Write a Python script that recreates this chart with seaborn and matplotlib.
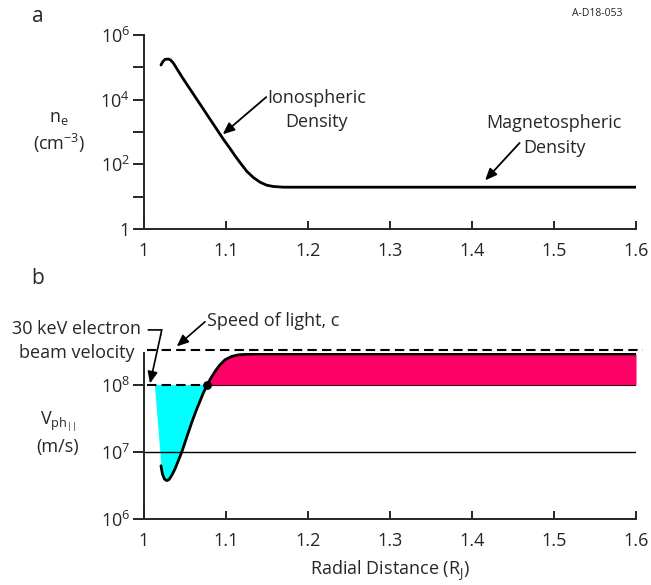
import numpy as np
import pandas as pd
import matplotlib
matplotlib.use("Agg")
import matplotlib.pyplot as plt
from matplotlib.ticker import FixedLocator, NullFormatter
import seaborn as sns

# ---------------- data ----------------
# panel a: electron density vs radial distance
r_ne = [1.0207, 1.0228, 1.0256, 1.0297, 1.0325, 1.0358, 1.0398, 1.048, 1.0724,
        1.0967, 1.1049, 1.111, 1.1171, 1.1252, 1.1333, 1.1415, 1.1496, 1.1577,
        1.17, 1.3, 1.4, 1.5, 1.6]
ne = [1.18e5, 1.49e5, 1.77e5, 1.81e5, 1.68e5, 1.36e5, 9.3e4, 4.35e4, 5.1e3,
      603, 310, 184, 114, 61.5, 39.3, 28.1, 22.7, 20.7,
      19.7, 19.7, 19.7, 19.7, 19.7]

# panel b: parallel phase velocity vs radial distance
r_v = [1.0207, 1.0224, 1.0248, 1.0276, 1.0305, 1.0337, 1.0378, 1.0419, 1.0459,
       1.052, 1.0581, 1.0642, 1.0683, 1.0724, 1.0764, 1.0805, 1.0866, 1.0927,
       1.0988, 1.1069, 1.115, 1.1313, 1.2, 1.3, 1.4, 1.5, 1.6]
v_ph = [6.2e6, 4.7e6, 3.95e6, 3.73e6, 3.86e6, 4.43e6, 5.55e6, 7.4e6, 9.8e6,
        1.63e7, 2.71e7, 4.28e7, 5.68e7, 7.54e7, 9.45e7, 1.19e8, 1.57e8, 1.97e8,
        2.34e8, 2.62e8, 2.77e8, 2.85e8, 2.85e8, 2.85e8, 2.85e8, 2.85e8, 2.85e8]

beam_v = 1e8          # 30 keV electron beam velocity
light_c = 3.25e8      # speed of light (as drawn)
ref_v = 1e7           # reference level
cross_r = 1.0768      # where V_ph crosses the beam velocity
cyan_left_r = 1.0126  # left corner of cyan region

x_ticks = [1, 1.1, 1.2, 1.3, 1.4, 1.5, 1.6]
x_ticklabels = ["1", "1.1", "1.2", "1.3", "1.4", "1.5", "1.6"]
ya_ticks = [1, 1e2, 1e4, 1e6]
ya_ticklabels = ["1", r"10$^\mathregular{2}$", r"10$^\mathregular{4}$", r"10$^\mathregular{6}$"]
ya_minor = [10, 1e3, 1e5]
yb_ticks = [1e6, 1e7, 1e8]
yb_ticklabels = [r"10$^\mathregular{6}$", r"10$^\mathregular{7}$", r"10$^\mathregular{8}$"]

df_a = pd.DataFrame({"r": r_ne, "ne": ne})
df_b = pd.DataFrame({"r": r_v, "v": v_ph})

# ---------------- style ----------------
sns.set_style("ticks")
plt.rcParams["font.family"] = ["Open Sans", "DejaVu Sans"]
plt.rcParams["mathtext.fontset"] = "custom"
plt.rcParams["mathtext.rm"] = "Open Sans"
plt.rcParams["mathtext.it"] = "Open Sans:italic"
plt.rcParams["axes.linewidth"] = 1.4

FS = 13
fig = plt.figure(figsize=(6.51, 5.85), dpi=100)
ax1 = fig.add_axes([0.2212, 0.6085, 0.7558, 0.3316])
ax2 = fig.add_axes([0.2212, 0.1128, 0.7558, 0.2838])

ARROW = dict(arrowstyle="-|>,head_length=0.7,head_width=0.3",
             color="black", lw=1.3, shrinkA=0, shrinkB=0)

# ---------------- panel a ----------------
sns.lineplot(data=df_a, x="r", y="ne", ax=ax1, color="black", lw=2.0)
ax1.set_yscale("log")
ax1.set_xlim(1, 1.6)
ax1.set_ylim(1, 1e6)
ax1.set_yticks(ya_ticks)
ax1.set_yticklabels(ya_ticklabels)
ax1.yaxis.set_minor_locator(FixedLocator(ya_minor))
ax1.yaxis.set_minor_formatter(NullFormatter())

ax1.annotate("", xy=(1.096, 8.5e2), xytext=(1.149, 1.2e4), arrowprops=ARROW)
ax1.text(1.21, 4.9e3, "Ionospheric\nDensity", ha="center", va="center",
         fontsize=FS, linespacing=1.45)
ax1.annotate("", xy=(1.416, 32), xytext=(1.458, 4.6e2), arrowprops=ARROW)
ax1.text(1.5, 7.8e2, "Magnetospheric\nDensity", ha="center", va="center",
         fontsize=FS, linespacing=1.45)

# ---------------- panel b ----------------
ax2.set_yscale("log")
ax2.set_xlim(1, 1.6)
ax2.set_ylim(1e6, 2.95e8)

fill_r_arr = np.array([cyan_left_r] + r_v)
fill_v_arr = np.array([beam_v] + v_ph)
ax2.fill_between(fill_r_arr, fill_v_arr, beam_v, where=fill_v_arr <= beam_v,
                 interpolate=True, color="#00FFFF", lw=0, zorder=1)
ax2.fill_between(np.array(r_v), np.array(v_ph), beam_v,
                 where=np.array(v_ph) >= beam_v, interpolate=True,
                 color="#FF0066", lw=0, zorder=1)

# reference lines
ax2.plot([cross_r, 1.6], [beam_v, beam_v], color="#400020", lw=0.8, zorder=2)
ax2.plot([1.004, cross_r], [beam_v, beam_v], color="black", lw=1.5,
         ls=(0, (4.5, 2.5)), zorder=2)
ax2.plot([1.0, 1.6], [ref_v, ref_v], color="black", lw=1.0, zorder=2)
ax2.plot([1.0037, 1.6085], [light_c, light_c], color="black", lw=1.5,
         ls=(0, (4.5, 2.5)), clip_on=False, zorder=3)

sns.lineplot(data=df_b, x="r", y="v", ax=ax2, color="black", lw=2.0, zorder=4)
ax2.scatter([cross_r], [beam_v], s=28, color="black", zorder=5)

ax2.set_yticks(yb_ticks)
ax2.set_yticklabels(yb_ticklabels)
ax2.yaxis.set_minor_locator(FixedLocator([]))

# bracket + arrow for beam velocity
ax2.plot([1.0052, 1.0216, 1.0204], [6.5e8, 6.5e8, 5.5e8], color="black",
         lw=1.2, clip_on=False, solid_joinstyle="miter")
ax2.annotate("", xy=(1.0073, 1.04e8), xytext=(1.0204, 5.5e8),
             arrowprops=dict(ARROW, lw=1.2), annotation_clip=False)
# speed of light arrow
ax2.annotate("", xy=(1.0399, 3.7e8), xytext=(1.0744, 8.6e8),
             arrowprops=dict(ARROW, lw=1.2), annotation_clip=False)
ax2.text(1.0765, 8.9e8, "Speed of light, c", ha="left", va="center",
         fontsize=FS, clip_on=False)

# ---------------- axes cosmetics ----------------
for ax in (ax1, ax2):
    sns.despine(ax=ax)
    ax.set_xticks(x_ticks)
    ax.set_xticklabels(x_ticklabels)
    ax.tick_params(axis="x", direction="in", length=6, width=1.4,
                   labelsize=FS, pad=9)
    ax.tick_params(axis="y", which="both", direction="out", length=8,
                   width=1.4, labelsize=FS, pad=2)
    ax.set_xlabel("")
    ax.set_ylabel("")

ax2.set_xlabel(r"Radial Distance (R$_\mathregular{J}$)", fontsize=FS, labelpad=7)

# figure texts
fig.text(38 / 651, 1 - 16 / 585, "a", fontsize=15, ha="center", va="center")
fig.text(38 / 651, 1 - 278 / 585, "b", fontsize=15, ha="center", va="center")
fig.text(597 / 651, 1 - 14 / 585, "A-D18-053", fontsize=7.5, ha="center", va="center")
fig.text(59 / 651, 1 - 132 / 585, "n$_\\mathregular{e}$\n(cm$^\\mathregular{-3}$)",
         fontsize=FS, ha="center", va="center", linespacing=1.3)
fig.text(58 / 651, 1 - 433 / 585,
         "V$_{\\mathregular{ph}_{\\mathregular{||}}}$\n(m/s)",
         fontsize=FS, ha="center", va="center", linespacing=1.25)
fig.text(77 / 651, 1 - 341 / 585, "30 keV electron\nbeam velocity",
         fontsize=FS, ha="center", va="center", linespacing=1.4)

fig.savefig("out.png", dpi=100)
